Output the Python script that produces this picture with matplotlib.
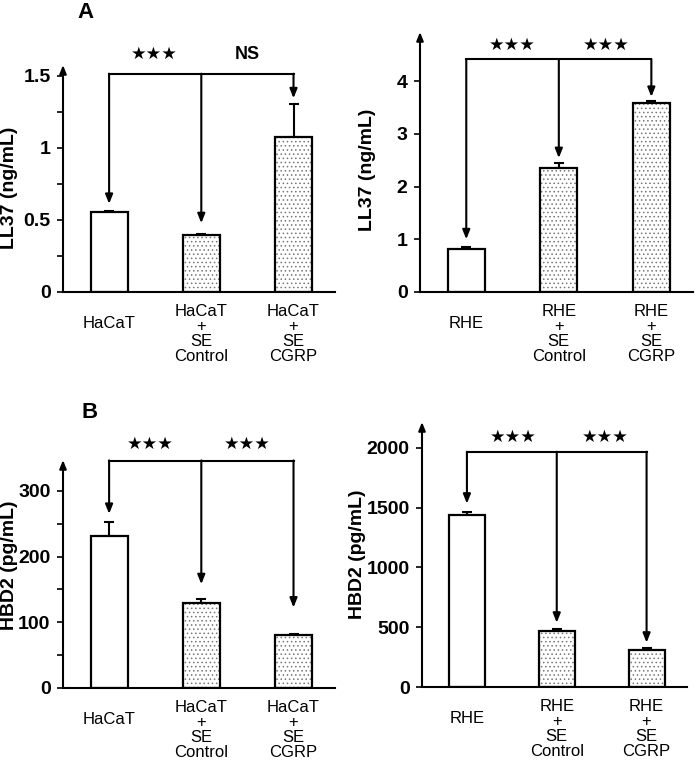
import matplotlib
matplotlib.use("Agg")
import matplotlib.pyplot as plt
import matplotlib.transforms as mtransforms
import numpy as np

plt.rcParams['font.family'] = ['Liberation Sans', 'DejaVu Sans']
plt.rcParams['hatch.linewidth'] = 0.6

# ---- data ----
hacat_labels = ['HaCaT', 'HaCaT\n+\nSE\nControl', 'HaCaT\n+\nSE\nCGRP']
rhe_labels = ['RHE', 'RHE\n+\nSE\nControl', 'RHE\n+\nSE\nCGRP']

ll37_hacat = [0.557, 0.397, 1.079]
ll37_hacat_err = [0.008, 0.006, 0.225]
ll37_rhe = [0.82, 2.35, 3.59]
ll37_rhe_err = [0.04, 0.09, 0.03]
hbd2_hacat = [231, 129.6, 80]
hbd2_hacat_err = [22, 6.5, 2]
hbd2_rhe = [1436, 469, 312]
hbd2_rhe_err = [26, 14, 14]

# bracket level, arrow tips, star/NS annotations
panels = [
    dict(vals=ll37_hacat, err=ll37_hacat_err, labels=hacat_labels, ylabel='LL37 (ng/mL)',
         ylim=1.576, major=0.5, minor=0.25, ticklabels=['0', '0.5', '1', '1.5'],
         bracket=1.514, tips=[0.612, 0.478, 1.345],
         notes=[(0.49, 1.65, '★★★'), (1.5, 1.65, 'NS')],
         pos=[63, 65, 335, 292], ylab_xy=(-0.195, 0.46)),
    dict(vals=ll37_rhe, err=ll37_rhe_err, labels=rhe_labels, ylabel='LL37 (ng/mL)',
         ylim=4.93, major=1, minor=None, ticklabels=None,
         bracket=4.41, tips=[1.0, 2.54, 3.70],
         notes=[(0.5, 4.68, '★★★'), (1.51, 4.68, '★★★')],
         pos=[420, 32, 693, 292], ylab_xy=(-0.194, 0.47)),
    dict(vals=hbd2_hacat, err=hbd2_hacat_err, labels=hacat_labels, ylabel='HBD2 (pg/mL)',
         ylim=347, major=100, minor=50, ticklabels=None,
         bracket=346, tips=[265, 158, 122.5],
         notes=[(0.45, 371, '★★★'), (1.5, 371, '★★★')],
         pos=[63, 460, 335, 688], ylab_xy=(-0.195, 0.54)),
    dict(vals=hbd2_rhe, err=hbd2_rhe_err, labels=rhe_labels, ylabel='HBD2 (pg/mL)',
         ylim=2217, major=500, minor=None, ticklabels=None,
         bracket=1966, tips=[1534, 538, 371],
         notes=[(0.52, 2092, '★★★'), (1.54, 2092, '★★★')],
         pos=[422, 422, 687, 687], ylab_xy=(-0.245, 0.50)),
]

W, H = 697, 765
fig = plt.figure(figsize=(W / 100, H / 100), dpi=100)

x = np.arange(3)
for p in panels:
    l, t, r, b = p['pos']
    ax = fig.add_axes([l / W, 1 - b / H, (r - l) / W, (b - t) / H])
    ax.set_xlim(-0.5, 2.45)
    ax.set_ylim(0, p['ylim'])

    # plain bar then two dotted bars
    ax.bar(x[:1], p['vals'][:1], width=0.4, color='white', edgecolor='black', lw=1.6, zorder=2)
    ax.bar(x[1:], p['vals'][1:], width=0.4, color='white', edgecolor='#777777',
           hatch='....', lw=0, zorder=2)
    ax.bar(x[1:], p['vals'][1:], width=0.4, fill=False, edgecolor='black', lw=1.6, zorder=3)
    ax.errorbar(x, p['vals'], yerr=[[0, 0, 0], p['err']], fmt='none', ecolor='black',
                elinewidth=1.5, capsize=3.5, capthick=1.5, zorder=1)

    # bracket with arrows
    by = p['bracket']
    ax.plot([0, 2], [by, by], color='black', lw=1.5, clip_on=False, zorder=4)
    for xi, tip in zip(x, p['tips']):
        ax.annotate('', xy=(xi, tip), xytext=(xi, by + 0.001 * p['ylim']),
                    arrowprops=dict(arrowstyle='-|>,head_length=0.55,head_width=0.22',
                                    color='black', lw=1.5, shrinkA=0, shrinkB=0),
                    annotation_clip=False, zorder=4)
    for nx, ny, txt in p['notes']:
        if txt == 'NS':
            ax.text(nx, ny, txt, ha='center', va='center', fontsize=13, fontweight='bold',
                    clip_on=False)
        else:
            ax.text(nx, ny, txt, ha='center', va='center', fontsize=12.5,
                    family='DejaVu Sans', clip_on=False)

    # axes styling
    for s in ['top', 'right', 'left']:
        ax.spines[s].set_visible(False)
    ax.spines['bottom'].set_linewidth(1.5)
    ax.annotate('', xy=(0, 1), xytext=(0, 0), xycoords='axes fraction',
                arrowprops=dict(arrowstyle='-|>,head_length=0.5,head_width=0.2',
                                color='black', lw=1.5, shrinkA=0, shrinkB=0),
                annotation_clip=False)
    ax.set_xticks([])
    yt = np.arange(0, p['ylim'], p['major'])
    ax.set_yticks(yt)
    if p['ticklabels']:
        ax.set_yticklabels(p['ticklabels'])
    if p['minor']:
        ax.set_yticks(np.arange(0, p['ylim'], p['minor']), minor=True)
    ax.tick_params(axis='y', which='both', direction='out', length=4, width=1.2, pad=5,
                   labelsize=14)
    for lab in ax.get_yticklabels():
        lab.set_fontweight('bold')
    ax.set_ylabel(p['ylabel'], fontsize=14, fontweight='bold', va='center')
    ax.yaxis.set_label_coords(*p['ylab_xy'])

    # category labels under the bars
    trans = mtransforms.blended_transform_factory(ax.transData, ax.transAxes)
    for xi, lab in zip(x, p['labels']):
        off = -24 if '\n' not in lab else -12
        ax.annotate(lab, xy=(xi, 0), xycoords=trans, xytext=(0, off),
                    textcoords='offset pixels', ha='center', va='top', fontsize=12,
                    linespacing=1.0, annotation_clip=False)

fig.text(85 / W, 1 - 12 / H, 'A', fontsize=16, fontweight='bold', ha='center', va='center')
fig.text(90 / W, 1 - 413 / H, 'B', fontsize=16, fontweight='bold', ha='center', va='center')

fig.savefig('out.png', dpi=100)
